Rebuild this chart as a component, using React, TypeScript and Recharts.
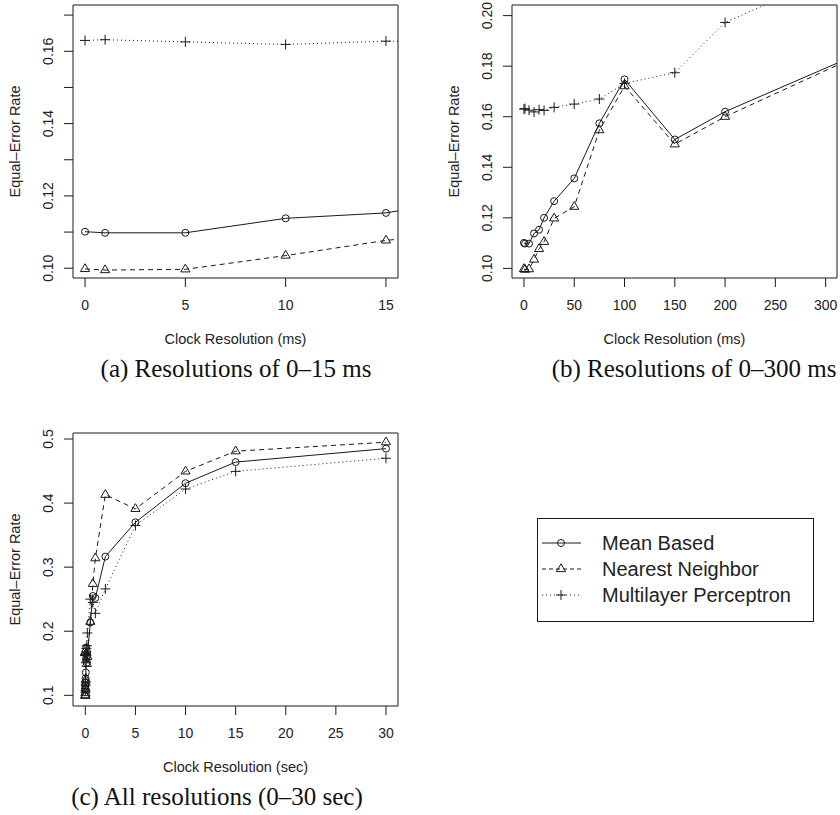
import { LineChart, Line, XAxis, YAxis, ReferenceArea } from "recharts";

// clock resolution in ms; panel (c) shows the same runs in seconds
const clockMs = [0, 1, 5, 10, 15, 20, 30, 50, 75, 100, 150, 200, 500, 750, 1000, 2000, 5000, 10000, 15000, 30000];
const meanBased = [0.1101, 0.1098, 0.1098, 0.1138, 0.1153, 0.12, 0.1266, 0.1356, 0.1574, 0.1748, 0.151, 0.162, 0.2137, 0.255, 0.252, 0.3165, 0.37, 0.431, 0.464, 0.485];
const nearestNeighbor = [0.0998, 0.0995, 0.0997, 0.1035, 0.1077, 0.1105, 0.1198, 0.1244, 0.1547, 0.1721, 0.1491, 0.16, 0.2148, 0.274, 0.314, 0.413, 0.391, 0.4495, 0.481, 0.495];
const multilayerPerceptron = [0.163, 0.1632, 0.1626, 0.1619, 0.1628, 0.1625, 0.1637, 0.165, 0.167, 0.1732, 0.1774, 0.1973, 0.25, 0.245, 0.228, 0.266, 0.365, 0.422, 0.4495, 0.47];

const xTicksA = [0, 5, 10, 15];
const yTicksA = [0.1, 0.11, 0.12, 0.13, 0.14, 0.15, 0.16, 0.17];
const xTicksB = [0, 50, 100, 150, 200, 250, 300];
const yTicksB = [0.1, 0.12, 0.14, 0.16, 0.18, 0.2];
const xTicksC = [0, 5, 10, 15, 20, 25, 30];
const yTicksC = [0.1, 0.2, 0.3, 0.4, 0.5];

const seriesNames = ["Mean Based", "Nearest Neighbor", "Multilayer Perceptron"];

const rows = clockMs.map((ms, i) => ({
  ms,
  sec: ms / 1000,
  mean: meanBased[i],
  nn: nearestNeighbor[i],
  mlp: multilayerPerceptron[i],
}));

const INK = "#1a1a1a";
const SANS = "'Liberation Sans', Arial, Helvetica, sans-serif";
const SERIF = "'Liberation Serif', 'DejaVu Serif', serif";

const circleDot = (p: any) =>
  p.cx == null ? null : (
    <circle key={`c${p.index}`} cx={p.cx} cy={p.cy} r={3.5} fill="none" stroke={INK} strokeWidth={1} />
  );

const triPoints = (cx: number, cy: number) =>
  `${cx},${cy - 5.2} ${cx + 4.6},${cy + 2.6} ${cx - 4.6},${cy + 2.6}`;

const triangleDot = (p: any) =>
  p.cx == null ? null : (
    <polygon key={`t${p.index}`} points={triPoints(p.cx, p.cy)} fill="none" stroke={INK} strokeWidth={1} />
  );

const plusDot = (p: any) =>
  p.cx == null ? null : (
    <path key={`p${p.index}`} d={`M${p.cx - 5},${p.cy}H${p.cx + 5}M${p.cx},${p.cy - 5}V${p.cy + 5}`} stroke={INK} strokeWidth={1} />
  );

const XTick = (p: any) => (
  <text x={p.x} y={p.y} dy="0.71em" textAnchor="middle" fontSize={14} fontFamily={SANS} fill="#222">
    {p.payload.value}
  </text>
);

const makeYTick = (fmt: (v: number) => string) => (p: any) => (
  <text
    x={p.x}
    y={p.y}
    transform={`rotate(-90 ${p.x} ${p.y})`}
    textAnchor="middle"
    fontSize={14}
    fontFamily={SANS}
    fill="#222"
  >
    {fmt(p.payload.value)}
  </text>
);

const xTitle = (text: string) => (p: any) => {
  const vb = p.viewBox;
  return (
    <text x={vb.x + vb.width / 2} y={vb.y + 66} textAnchor="middle" fontSize={14.5} fontFamily={SANS} fill="#222">
      {text}
    </text>
  );
};

const yTitle = (text: string) => (p: any) => {
  const vb = p.viewBox;
  const cx = vb.x + 20;
  const cy = vb.y + vb.height / 2;
  return (
    <text x={cx} y={cy} transform={`rotate(-90 ${cx} ${cy})`} textAnchor="middle" fontSize={14.5} fontFamily={SANS} fill="#222">
      {text}
    </text>
  );
};

type PanelProps = {
  left: number;
  top: number;
  width: number;
  height: number;
  margin: { top: number; right: number; bottom: number; left: number };
  xKey: string;
  xDomain: [number, number];
  yDomain: [number, number];
  xTicks: number[];
  yTicks: number[];
  yFmt: (v: number) => string;
  xLabel: string;
};

function Panel(props: PanelProps) {
  const { left, top, width, height, margin, xKey, xDomain, yDomain, xTicks, yTicks, yFmt, xLabel } = props;
  return (
    <div style={{ position: "absolute", left, top }}>
      <LineChart width={width} height={height} data={rows} margin={margin}>
        <XAxis
          type="number"
          dataKey={xKey}
          domain={xDomain}
          allowDataOverflow
          ticks={xTicks}
          interval={0}
          axisLine={false}
          tickLine={{ stroke: INK }}
          tickSize={9}
          tickMargin={13}
          tick={XTick}
          height={80}
          label={{ content: xTitle(xLabel) }}
        />
        <YAxis
          type="number"
          domain={yDomain}
          allowDataOverflow
          ticks={yTicks}
          interval={0}
          axisLine={false}
          tickLine={{ stroke: INK }}
          tickSize={9}
          tickMargin={11}
          tick={makeYTick(yFmt)}
          width={73}
          label={{ content: yTitle("Equal\u2013Error Rate") }}
        />
        <Line dataKey="mlp" name={seriesNames[2]} stroke={INK} strokeWidth={1} strokeDasharray="1 3" dot={plusDot} isAnimationActive={false} />
        <Line dataKey="nn" name={seriesNames[1]} stroke={INK} strokeWidth={1} strokeDasharray="5 4" dot={triangleDot} isAnimationActive={false} />
        <Line dataKey="mean" name={seriesNames[0]} stroke={INK} strokeWidth={1} dot={circleDot} isAnimationActive={false} />
        <ReferenceArea x1={xDomain[0]} x2={xDomain[1]} y1={yDomain[0]} y2={yDomain[1]} fill="none" stroke={INK} strokeWidth={1} />
      </LineChart>
    </div>
  );
}

function LegendBox() {
  const items = [
    { name: seriesNames[0], dash: undefined, dot: circleDot },
    { name: seriesNames[1], dash: "4 3", dot: triangleDot },
    { name: seriesNames[2], dash: "1 3", dot: plusDot },
  ];
  return (
    <svg style={{ position: "absolute", left: 537, top: 518 }} width={277} height={104}>
      <rect x={0.5} y={0.5} width={276} height={103} fill="#fff" stroke={INK} strokeWidth={1} />
      {items.map((it, i) => {
        const cy = 25 + i * 26;
        return (
          <g key={it.name}>
            <line x1={5} x2={44} y1={cy} y2={cy} stroke={INK} strokeWidth={1} strokeDasharray={it.dash} />
            {it.dot({ cx: 24, cy, index: i })}
            <text x={65} y={cy} dy="0.35em" fontSize={20} fontFamily={SANS} fill="#222">
              {it.name}
            </text>
          </g>
        );
      })}
    </svg>
  );
}

const captionStyle = (center: number, top: number): React.CSSProperties => ({
  position: "absolute",
  left: center - 200,
  width: 400,
  top,
  textAlign: "center",
  fontFamily: SERIF,
  fontSize: 25,
  color: "#111",
  whiteSpace: "nowrap",
});

export default function App() {
  return (
    <div style={{ position: "absolute", left: 0, top: 0, width: 840, height: 815, overflow: "hidden", background: "#fff" }}>
      <Panel
        left={0}
        top={0}
        width={420}
        height={360}
        margin={{ top: 5, right: 22, bottom: 2, left: 0 }}
        xKey="ms"
        xDomain={[-0.6, 15.6]}
        yDomain={[0.0973, 0.1728]}
        xTicks={xTicksA}
        yTicks={yTicksA}
        yFmt={(v) => (Math.round(v * 100) % 2 === 0 ? v.toFixed(2) : "")}
        xLabel="Clock Resolution (ms)"
      />
      <Panel
        left={439}
        top={0}
        width={401}
        height={360}
        margin={{ top: 5, right: 3, bottom: 2, left: 0 }}
        xKey="ms"
        xDomain={[-11.9, 311.3]}
        yDomain={[0.0962, 0.2042]}
        xTicks={xTicksB}
        yTicks={yTicksB}
        yFmt={(v) => v.toFixed(2)}
        xLabel="Clock Resolution (ms)"
      />
      <Panel
        left={0}
        top={400}
        width={420}
        height={388}
        margin={{ top: 33, right: 22, bottom: 2, left: 0 }}
        xKey="sec"
        xDomain={[-1.23, 31.2]}
        yDomain={[0.0833, 0.5094]}
        xTicks={xTicksC}
        yTicks={yTicksC}
        yFmt={(v) => v.toFixed(1)}
        xLabel="Clock Resolution (sec)"
      />
      <LegendBox />
      <div style={captionStyle(236, 355)}>(a) Resolutions of 0–15 ms</div>
      <div style={captionStyle(694, 355)}>(b) Resolutions of 0–300 ms</div>
      <div style={captionStyle(217, 783)}>(c) All resolutions (0–30 sec)</div>
    </div>
  );
}
